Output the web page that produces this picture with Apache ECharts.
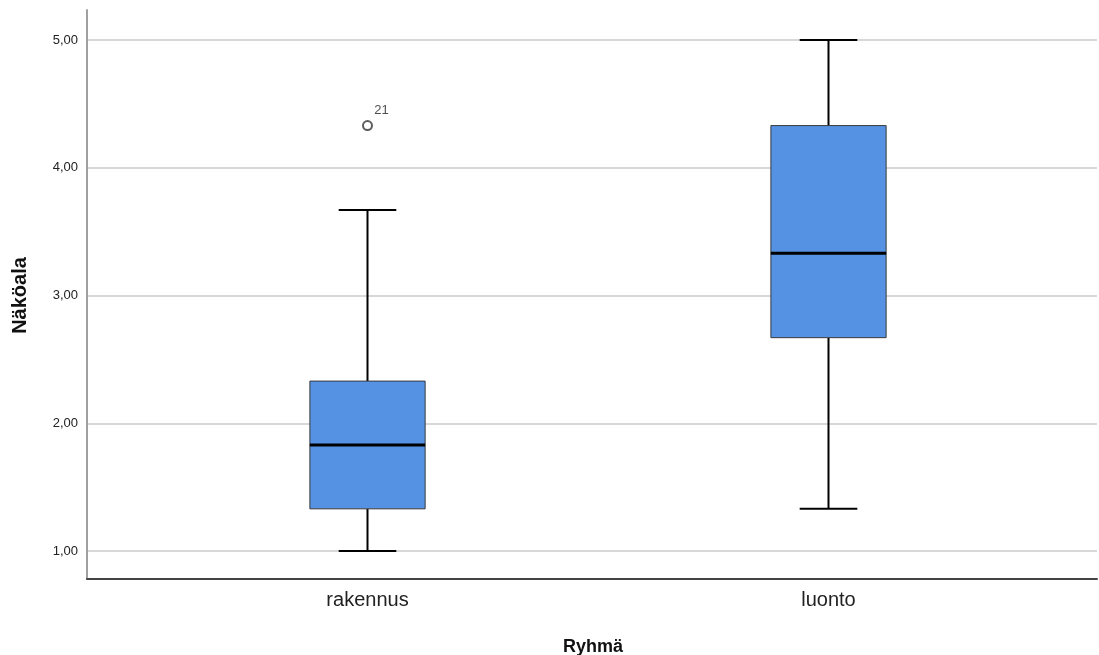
<!DOCTYPE html>
<html>
<head>
<meta charset="utf-8">
<script src="https://cdn.jsdelivr.net/npm/echarts@6/dist/echarts.min.js"></script>
<style>
  html, body { margin: 0; padding: 0; background: #fff; }
  #chart { width: 1099px; height: 655px; }
</style>
</head>
<body>
<div id="chart"></div>
<script>
// Groups on the x axis
const categories = ['rakennus', 'luonto'];

// Five-number summaries per group (whisker low, Q1, median, Q3, whisker high)
const whiskerLow  = [1.00, 1.33];
const q1          = [1.33, 2.67];
const median      = [1.83, 3.33];
const q3          = [2.33, 4.33];
const whiskerHigh = [3.67, 5.00];

// Outliers: [group index, value, case label]
const outliers = [[0, 4.33, '21']];

// Y tick values shown on the axis
const yTicks = [1, 2, 3, 4, 5];

const FONT = "'Liberation Sans', Arial, sans-serif";
const fmt = v => v.toFixed(2).replace('.', ',');

const boxData = categories.map((c, i) =>
  [i, whiskerLow[i], q1[i], median[i], q3[i], whiskerHigh[i]]);

function renderBox(params, api) {
  const x = api.value(0);
  const pLow  = api.coord([x, api.value(1)]);
  const pQ1   = api.coord([x, api.value(2)]);
  const pMed  = api.coord([x, api.value(3)]);
  const pQ3   = api.coord([x, api.value(4)]);
  const pHigh = api.coord([x, api.value(5)]);
  const band = api.size([1, 0])[0];
  const boxW = band * 0.25;
  const capW = boxW * 0.5;
  const cx = pMed[0];
  const whisk = { stroke: '#000', lineWidth: 2 };
  return {
    type: 'group',
    children: [
      { type: 'line', shape: { x1: cx, y1: pLow[1], x2: cx, y2: pQ1[1] }, style: whisk },
      { type: 'line', shape: { x1: cx, y1: pQ3[1], x2: cx, y2: pHigh[1] }, style: whisk },
      { type: 'line', shape: { x1: cx - capW / 2, y1: pLow[1], x2: cx + capW / 2, y2: pLow[1] }, style: whisk },
      { type: 'line', shape: { x1: cx - capW / 2, y1: pHigh[1], x2: cx + capW / 2, y2: pHigh[1] }, style: whisk },
      { type: 'rect', shape: { x: cx - boxW / 2, y: pQ3[1], width: boxW, height: pQ1[1] - pQ3[1] },
        style: { fill: '#5592e4', stroke: '#3a3a3a', lineWidth: 1 } },
      { type: 'line', shape: { x1: cx - boxW / 2, y1: pMed[1], x2: cx + boxW / 2, y2: pMed[1] },
        style: { stroke: '#000', lineWidth: 3 } }
    ]
  };
}

const chart = echarts.init(document.getElementById('chart'));
chart.setOption({
  animation: false,
  backgroundColor: '#fff',
  grid: [
    // frame (axis lines)
    { left: 87, right: 2, top: 10, bottom: 76, outerBoundsMode: 'none', containLabel: false },
    // value scale and grid lines
    { left: 87, right: 2, top: 40, bottom: 104, outerBoundsMode: 'none', containLabel: false },
    // groups
    { left: 137, right: 40, top: 40, bottom: 104, outerBoundsMode: 'none', containLabel: false }
  ],
  xAxis: [
    { gridIndex: 0, type: 'value', min: 0, max: 1,
      axisLine: { show: true, onZero: false, lineStyle: { color: '#444', width: 2 } },
      axisTick: { show: false }, axisLabel: { show: false }, splitLine: { show: false } },
    { gridIndex: 1, type: 'value', min: 0, max: 1, show: false },
    { gridIndex: 2, type: 'category', data: categories, offset: 28,
      axisLine: { show: false }, axisTick: { show: false },
      axisLabel: { fontFamily: FONT, fontSize: 20, color: '#222', margin: 11 },
      name: 'Ryhmä', nameLocation: 'middle', nameGap: 59,
      nameTextStyle: { fontFamily: FONT, fontSize: 18, fontWeight: 'bold', color: '#111',
        padding: [0, 10, 0, 0] } }
  ],
  yAxis: [
    { gridIndex: 0, type: 'value', min: 0, max: 1,
      axisLine: { show: true, onZero: false, lineStyle: { color: '#a0a0a0', width: 2 } },
      axisTick: { show: false }, axisLabel: { show: false }, splitLine: { show: false } },
    { gridIndex: 1, type: 'value', min: yTicks[0], max: yTicks[yTicks.length - 1], interval: 1,
      axisLine: { show: false }, axisTick: { show: false },
      axisLabel: { fontFamily: FONT, fontSize: 13, color: '#222', margin: 9, formatter: fmt },
      splitLine: { show: true, lineStyle: { color: '#cbcbcb', width: 1.5 } },
      name: 'Näköala', nameLocation: 'middle', nameGap: 57,
      nameTextStyle: { fontFamily: FONT, fontSize: 20, fontWeight: 'bold', color: '#111' } },
    { gridIndex: 2, type: 'value', min: yTicks[0], max: yTicks[yTicks.length - 1], show: false }
  ],
  series: [
    { type: 'custom', xAxisIndex: 2, yAxisIndex: 2, renderItem: renderBox,
      data: boxData, encode: { x: 0, y: [1, 2, 3, 4, 5] }, z: 3 },
    { type: 'scatter', xAxisIndex: 2, yAxisIndex: 2, z: 4,
      symbol: 'emptyCircle', symbolSize: 9,
      itemStyle: { color: '#333', borderColor: '#333', borderWidth: 1.5 },
      data: outliers.map(o => ({ value: [o[0], o[1]], name: o[2] })),
      label: { show: true, position: 'inside', offset: [14, -15],
        formatter: p => p.name, fontFamily: FONT, fontSize: 13, color: '#222' } }
  ]
});
</script>
</body>
</html>
